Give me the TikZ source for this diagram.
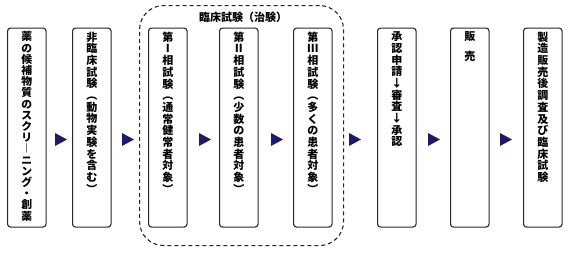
\documentclass[tikz,border=0pt]{standalone}
\usepackage{fontspec}
\newfontfamily\jpfont{Noto Sans CJK JP}
\definecolor{flownavy}{HTML}{1B1B6E}
\ExplSyntaxOn
\NewDocumentCommand \tatestack { m }
    { \tl_map_inline:nn {#1} { ##1 \\ } }
\ExplSyntaxOff
\tikzset{
    stage/.style={draw=black!85, line width=1.1pt, rounded corners=3pt,
        minimum width=38.5pt, minimum height=199pt, inner sep=0pt, anchor=north west},
    tatetext/.style={anchor=north, align=center, inner sep=0pt,
        font=\jpfont\bfseries\fontsize{11}{11.7}\selectfont},
    tatetight/.style={font=\jpfont\bfseries\fontsize{10.8}{11.2}\selectfont},
    trialframe/.style={draw=black!85, line width=1.1pt, dash pattern=on 4pt off 3pt,
        rounded corners=24pt, inner sep=0pt, anchor=north west},
}
\begin{document}
\begin{tikzpicture}[x=1pt,y=-1pt]

    \useasboundingbox (0,0) rectangle (568,252);

    % Clinical trial frame
    \node[trialframe, minimum width=204pt, minimum height=240pt] (trial) at (139,5) {};
    \node[font=\jpfont\bfseries\fontsize{11}{11}\selectfont, inner sep=0pt] (trialtitle) at (243,17) {臨床試験（治験）};

    % Stages
    \node[stage] (screen)     at (7,27.5)   {};
    \node[stage] (preclin)    at (72,27.5)  {};
    \node[stage] (phaseone)   at (148,27.5) {};
    \node[stage] (phasetwo)   at (219,27.5) {};
    \node[stage] (phasethree) at (293,27.5) {};
    \node[stage] (approval)   at (377,27.5) {};
    \node[stage] (sales)      at (450,27.5) {};
    \node[stage] (postmkt)    at (523,27.5) {};

    % Vertical labels
    \node[tatetext, tatetight] (screentext) at ([yshift=-4pt]screen.north) {\tatestack{薬の候補物質のスクリ︱ニング・創薬}};
    \node[tatetext] (preclintext)    at ([yshift=-4pt]preclin.north)    {\tatestack{非臨床試験︵動物実験を含む︶}};
    \node[tatetext] (phaseonetext)   at ([yshift=-4pt]phaseone.north)   {\tatestack{第Ⅰ相試験︵通常健常者対象︶}};
    \node[tatetext] (phasetwotext)   at ([yshift=-4pt]phasetwo.north)   {\tatestack{第Ⅱ相試験︵少数の患者対象︶}};
    \node[tatetext] (phasethreetext) at ([yshift=-4pt]phasethree.north) {\tatestack{第Ⅲ相試験︵多くの患者対象︶}};
    \node[tatetext] (approvaltext)   at ([yshift=-4pt]approval.north)   {\tatestack{承認申請↓審査↓承認}};
    \node[tatetext] (salestext)      at ([yshift=-4pt]sales.north)      {販\\[8.5pt]売};
    \node[tatetext] (postmkttext)    at ([yshift=-4pt]postmkt.north)    {\tatestack{製造販売後調査及び臨床試験}};

    % Flow markers
    \foreach \x in {55,122,199,271,349,428,500}
        \fill[flownavy] (\x,133) -- ++(12,6.5) -- ++(-12,6.5) -- cycle;

\end{tikzpicture}
\end{document}
